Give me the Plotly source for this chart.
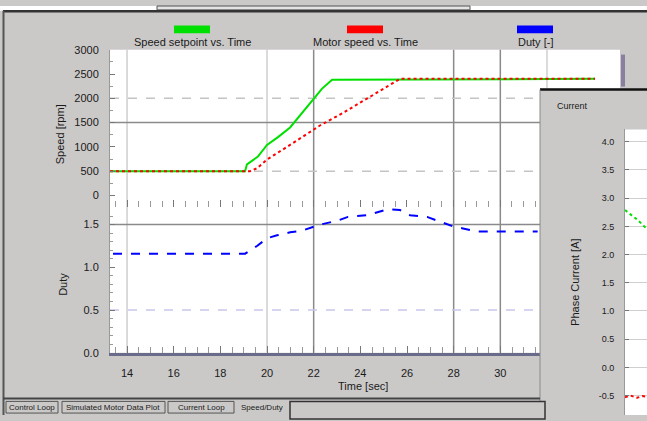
import plotly.graph_objects as go

W, H = 647, 421
def X(p): return p / W
def Y(p): return 1 - p / H

# ---------------- data ----------------
green_t = [13.27, 19.06, 19.14, 19.61, 20.0, 20.47, 20.99, 21.5, 21.97, 22.36, 22.79, 34.06]
green_v = [500, 500, 640, 800, 1040, 1200, 1400, 1700, 1960, 2200, 2380, 2400]

red_t = [13.27, 19.27, 19.57, 20.0, 20.86, 21.84, 22.27, 23.26, 24.29, 25.14, 25.57, 25.7, 34.06]
red_v = [500, 500, 560, 740, 1000, 1300, 1440, 1700, 2000, 2240, 2360, 2400, 2400]

blue_t = [13.4, 19.06, 19.57, 20.0, 20.43, 20.99, 21.5, 21.93, 22.27, 23.0, 23.47, 24.29, 24.76,
          25.19, 25.7, 26.13, 26.86, 27.29, 27.54, 27.97, 28.4, 29.0, 31.6]
blue_v = [1.16, 1.16, 1.25, 1.34, 1.375, 1.41, 1.43, 1.47, 1.5, 1.545, 1.59, 1.61, 1.65,
          1.68, 1.67, 1.61, 1.59, 1.545, 1.52, 1.48, 1.455, 1.42, 1.42]

x_ticks = [14, 16, 18, 20, 22, 24, 26, 28, 30]
x_ticklabels = ["14", "16", "18", "20", "22", "24", "26", "28", "30"]
x_minor = [13.5, 14.5, 15, 15.5, 16.5, 17, 17.5, 18.5, 19, 19.5, 20.5, 21, 21.5, 22.5, 23, 23.5,
           24.5, 25, 25.5, 26.5, 27, 27.5, 28.5, 29, 29.5, 30.5, 31, 31.5]
speed_ticks = [0, 500, 1000, 1500, 2000, 2500, 3000]
speed_ticklabels = ["0", "500", "1000", "1500", "2000", "2500", "3000"]
duty_ticks = [0, 0.5, 1.0, 1.5]
duty_ticklabels = ["0.0", "0.5", "1.0", "1.5"]

# overlay window (phase current)
cur_t = [0.0, 0.25, 0.55, 0.8, 1.0]
cur_green = [2.79, 2.72, 2.62, 2.53, 2.45]
cur_red = [-0.53, -0.5, -0.54, -0.51, -0.52]
cur_ticks = [4.0, 3.5, 3.0, 2.5, 2.0, 1.5, 1.0, 0.5, 0.0, -0.5]
cur_ticklabels = ["4.0", "3.5", "3.0", "2.5", "2.0", "1.5", "1.0", "0.5", "0.0", "-0.5"]

legend_names = ["Speed setpoint vs. Time", "Motor speed vs. Time", "Duty [-]"]
legend_colors = ["#00e000", "#ff0000", "#0000ff"]
tab_names = ["Control Loop", "Simulated Motor Data Plot", "Current Loop", "Speed/Duty"]

BG = "#cbc9c8"
FONT = "Liberation Sans"
TXT = "#1a1a1a"

fig = go.Figure()
fig.add_trace(go.Scatter(x=green_t, y=green_v, mode="lines", line=dict(color=legend_colors[0], width=2),
                         xaxis="x", yaxis="y", name=legend_names[0]))
fig.add_trace(go.Scatter(x=red_t, y=red_v, mode="lines", line=dict(color=legend_colors[1], width=2, dash="dot"),
                         xaxis="x", yaxis="y", name=legend_names[1]))
fig.add_trace(go.Scatter(x=blue_t, y=blue_v, mode="lines", line=dict(color=legend_colors[2], width=2, dash="dash"),
                         xaxis="x2", yaxis="y2", name=legend_names[2]))
fig.add_trace(go.Scatter(x=cur_t, y=cur_green, mode="lines", line=dict(color=legend_colors[0], width=2, dash="dot"),
                         xaxis="x3", yaxis="y3", showlegend=False))
fig.add_trace(go.Scatter(x=cur_t, y=cur_red, mode="lines", line=dict(color=legend_colors[1], width=2, dash="dot"),
                         xaxis="x3", yaxis="y3", showlegend=False))

shapes = []
# window background pieces
shapes.append(dict(type="rect", xref="paper", yref="paper", x0=0, x1=1, y0=Y(5), y1=1,
                   fillcolor="white", line_width=0, layer="below"))
shapes.append(dict(type="rect", xref="paper", yref="paper", x0=X(157), x1=X(470), y0=Y(4), y1=1,
                   fillcolor="#e4e4e4", line=dict(color="#555", width=1), layer="below"))
# main white plot area
shapes.append(dict(type="rect", xref="paper", yref="paper", x0=X(110), x1=X(620), y0=Y(357), y1=Y(45),
                   fillcolor="white", line_width=0, layer="below"))

# gridlines (main plots)
for t, col in [(14, "#cfcfcf"), (20, "#cfcfcf"), (22, "#8a8a8a"), (28, "#8a8a8a"), (30, "#8a8a8a"), (32, "#cfcfcf")]:
    shapes.append(dict(type="line", xref="x", yref="paper", x0=t, x1=t, y0=Y(357), y1=Y(45),
                       line=dict(color=col, width=1.5), layer="below"))
shapes.append(dict(type="line", xref="paper", yref="y", x0=X(110), x1=X(620), y0=1500, y1=1500,
                   line=dict(color="#8a8a8a", width=1.5), layer="below"))
for v in [2000, 500]:
    shapes.append(dict(type="line", xref="paper", yref="y", x0=X(110), x1=X(620), y0=v, y1=v,
                       line=dict(color="#c4c4c4", width=1.5, dash="dash"), layer="below"))
shapes.append(dict(type="line", xref="paper", yref="y2", x0=X(110), x1=X(620), y0=1.5, y1=1.5,
                   line=dict(color="#8a8a8a", width=1.5), layer="below"))
shapes.append(dict(type="line", xref="paper", yref="y2", x0=X(110), x1=X(620), y0=0.5, y1=0.5,
                   line=dict(color="#c8c8ee", width=1.5, dash="dash"), layer="below"))
# small colour strip at right of top plot
shapes.append(dict(type="rect", xref="paper", yref="paper", x0=X(621), x1=X(625), y0=Y(83), y1=Y(50),
                   fillcolor="#8a7fa0", line_width=0, layer="below"))

# overlay window
shapes.append(dict(type="rect", xref="paper", yref="paper", x0=X(540), x1=1, y0=0, y1=Y(85),
                   fillcolor=BG, line_width=0, layer="below"))
shapes.append(dict(type="rect", xref="paper", yref="paper", x0=X(625), x1=1, y0=0, y1=Y(127),
                   fillcolor="white", line_width=0, layer="below"))
shapes.append(dict(type="line", xref="paper", yref="paper", x0=X(540), x1=1, y0=Y(86), y1=Y(86),
                   line=dict(color="#111", width=2.5)))
shapes.append(dict(type="line", xref="paper", yref="paper", x0=X(540), x1=X(540), y0=0, y1=Y(86),
                   line=dict(color="#8a8a8a", width=1)))

# window frame
shapes.append(dict(type="line", xref="paper", yref="paper", x0=X(3), x1=1, y0=Y(5.5), y1=Y(5.5),
                   line=dict(color="#333", width=2.5)))
shapes.append(dict(type="line", xref="paper", yref="paper", x0=X(3.5), x1=X(3.5), y0=0, y1=Y(5),
                   line=dict(color="#555", width=2)))
# tab bar
shapes.append(dict(type="line", xref="paper", yref="paper", x0=X(3), x1=X(540), y0=Y(404), y1=Y(404),
                   line=dict(color="#444", width=2)))
for x0, x1 in [(6, 58), (62, 165), (168, 234)]:
    shapes.append(dict(type="rect", xref="paper", yref="paper", x0=X(x0), x1=X(x1), y0=Y(419), y1=Y(407),
                       fillcolor=BG, line=dict(color="#555", width=1)))
shapes.append(dict(type="rect", xref="paper", yref="paper", x0=X(290), x1=X(545), y0=-0.01, y1=Y(407),
                   fillcolor=BG, line=dict(color="#333", width=1.5)))

annotations = []
def ann(text, x, y, size=10, angle=0, xanchor="center", color=TXT):
    annotations.append(dict(text=text, x=X(x), y=Y(y), xref="paper", yref="paper", showarrow=False,
                            font=dict(family=FONT, size=size, color=color), textangle=angle,
                            xanchor=xanchor, yanchor="middle"))

# legend
for name, col, cx in zip(legend_names, legend_colors, [192, 365, 535]):
    shapes.append(dict(type="rect", xref="paper", yref="paper", x0=X(cx - 18), x1=X(cx + 18),
                       y0=Y(28), y1=Y(20), fillcolor=col, line_width=0))
    ann(name, cx, 37, size=11)

ann("Speed [rpm]", 60, 132, size=11, angle=-90)
ann("Duty", 63, 287, size=11, angle=-90)
ann("Time [sec]", 363, 391, size=11)
ann("Current", 555, 103, size=9, xanchor="left")
ann("Phase Current [A]", 575, 285, size=11, angle=-90)
for name, cx in zip(tab_names, [32, 113, 201, 262]):
    ann(name, cx, 413, size=8)

axis_font = dict(family=FONT, size=11, color=TXT)

fig.update_layout(
    width=W, height=H, margin=dict(l=0, r=0, t=0, b=0),
    paper_bgcolor=BG, plot_bgcolor="rgba(0,0,0,0)", showlegend=False,
    shapes=shapes, annotations=annotations,
    xaxis=dict(domain=[X(110), X(620)], range=[13.27, 35.13], anchor="y",
               showticklabels=False, showgrid=False, zeroline=False,
               tickvals=x_ticks, ticks="inside", ticklen=7, tickcolor="#777",
               minor=dict(ticks="inside", tickvals=x_minor, ticklen=6, tickcolor="#999")),
    yaxis=dict(domain=[Y(207), Y(45)], range=[-240, 3000], anchor="x",
               tickvals=speed_ticks, ticktext=speed_ticklabels, tickfont=axis_font,
               ticks="inside", ticklen=5, tickcolor="#777", ticklabelstandoff=8,
               minor=dict(ticks="inside", dtick=250, ticklen=3, tickcolor="#999"),
               showgrid=False, zeroline=False, showline=True, linecolor="#999", linewidth=1),
    xaxis2=dict(domain=[X(110), X(540)], range=[13.27, 31.70], anchor="y2",
                tickvals=x_ticks, ticktext=x_ticklabels, tickfont=axis_font,
                ticks="inside", ticklen=7, tickcolor="#777", ticklabelstandoff=8,
                minor=dict(ticks="inside", tickvals=x_minor, ticklen=6, tickcolor="#999"),
                showgrid=False, zeroline=False, showline=True, linecolor="#6a6a8a", linewidth=3),
    yaxis2=dict(domain=[Y(357), Y(207)], range=[0, 1.705], anchor="x2",
                tickvals=duty_ticks, ticktext=duty_ticklabels, tickfont=axis_font,
                ticks="inside", ticklen=5, tickcolor="#777", ticklabelstandoff=8,
                minor=dict(ticks="inside", dtick=0.1, ticklen=3, tickcolor="#999"),
                showgrid=False, zeroline=False, showline=True, linecolor="#999", linewidth=1),
    xaxis3=dict(domain=[X(625), 1], range=[0, 1], anchor="y3",
                showticklabels=False, showgrid=False, zeroline=False, ticks=""),
    yaxis3=dict(domain=[0, Y(127)], range=[-0.845, 4.22], anchor="x3",
                tickvals=cur_ticks, ticktext=cur_ticklabels, tickfont=dict(family=FONT, size=9, color=TXT),
                ticks="inside", ticklen=4, tickcolor="#777", ticklabelstandoff=8,
                showgrid=True, gridcolor="#cfcfcf", zeroline=False, showline=True, linecolor="#999"),
)

fig.write_html("out.html", config={"displayModeBar": False},
               post_script="document.body.style.margin='0';")
